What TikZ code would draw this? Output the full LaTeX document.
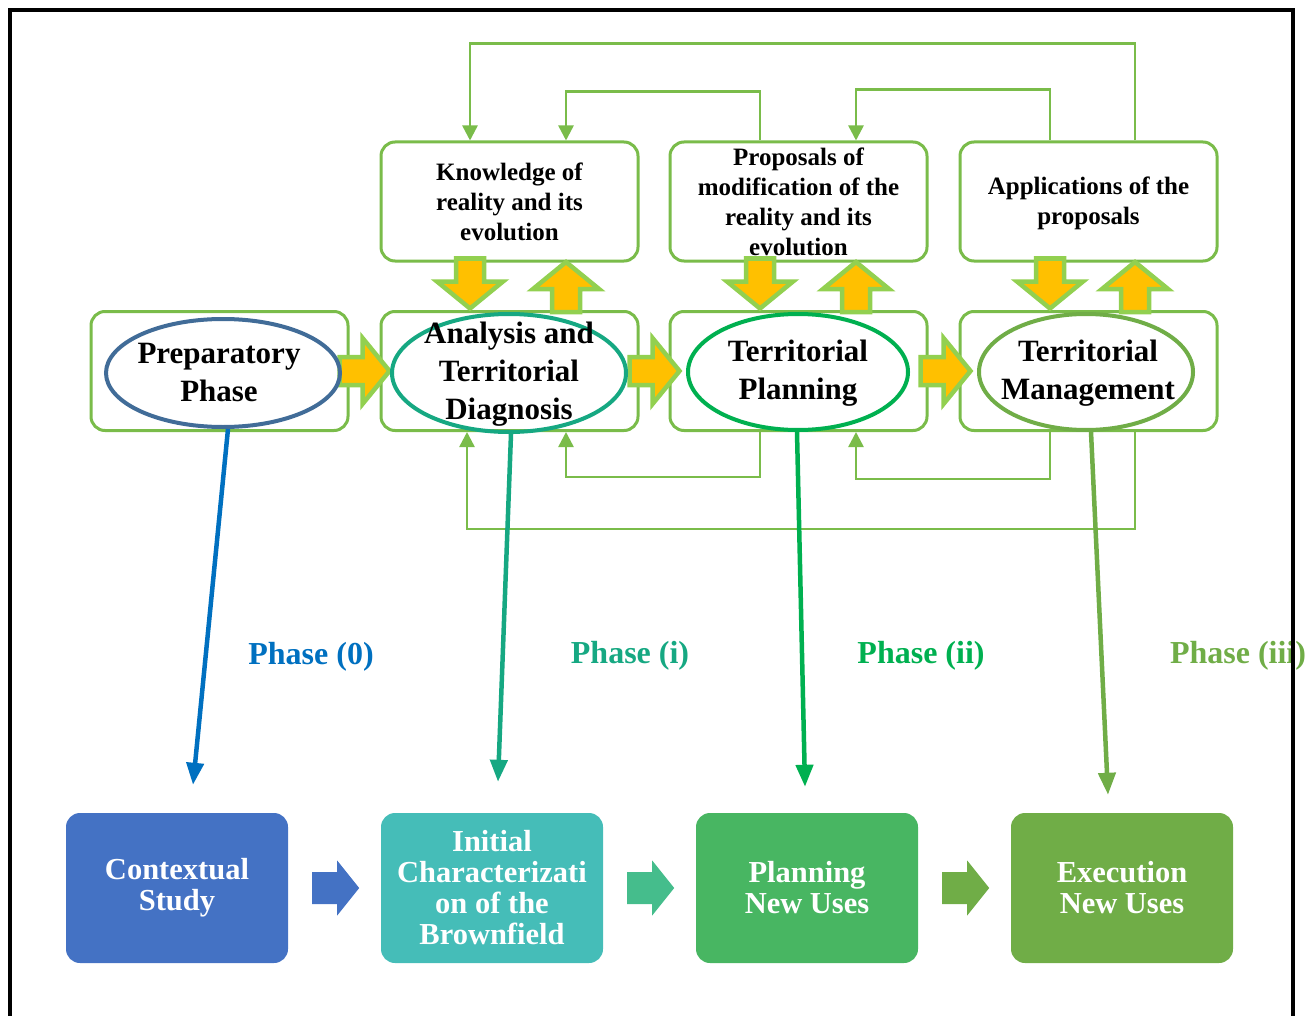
\documentclass[tikz,border=0pt]{standalone}
\usepackage{fontspec}
\setmainfont{Liberation Serif}
\usetikzlibrary{shapes.geometric,arrows.meta}

\definecolor{boxgreen}{RGB}{122,188,74}
\definecolor{fatgreen}{RGB}{146,208,80}
\definecolor{fatorange}{RGB}{255,192,0}
\definecolor{ringblue}{RGB}{65,108,152}
\definecolor{ringteal}{RGB}{22,168,130}
\definecolor{ringgreen}{RGB}{0,176,80}
\definecolor{ringolive}{RGB}{112,173,71}
\definecolor{phaseblue}{RGB}{0,112,192}
\definecolor{tileblue}{RGB}{68,114,196}
\definecolor{tileteal}{RGB}{69,189,184}
\definecolor{tilegreen}{RGB}{72,182,98}
\definecolor{tileolive}{RGB}{112,173,71}
\definecolor{arrowmint}{RGB}{69,189,140}

\newcommand{\stagefont}{\bfseries\fontsize{31}{38}\selectfont}
\newcommand{\notefont}{\bfseries\fontsize{25}{30}\selectfont}
\newcommand{\tilefont}{\bfseries\fontsize{30.5}{31}\selectfont}
\newcommand{\phasefont}{\bfseries\fontsize{32}{34}\selectfont}

\tikzset{
  stage/.style={draw=boxgreen, line width=3pt, rounded corners=14pt, fill=white,
    minimum width=257pt, minimum height=119pt},
  ring/.style={ellipse, draw=#1, line width=4pt, inner sep=0pt},
  stagetext/.style={align=center, font=\stagefont, inner sep=0pt},
  notetext/.style={align=center, font=\notefont, inner sep=0pt},
  tile/.style={fill=#1, rounded corners=14pt, minimum width=222pt, minimum height=150pt,
    text=white, align=center, font=\tilefont, inner sep=0pt},
  loop/.style={draw=boxgreen, line width=2.5pt, -{Triangle[width=15pt,length=15pt]}},
  phasearrow/.style={draw=#1, line width=4.5pt, -{Triangle[width=17pt,length=22pt]}},
  phaselabel/.style={text=#1, font=\phasefont, inner sep=0pt},
  fatarrow/.pic={
    \draw[draw=fatgreen, fill=fatorange, line width=4.5pt, line join=miter]
      (0,-14) -- (23,-14) -- (23,-33) -- (50,0) -- (23,33) -- (23,14) -- (0,14) -- cycle;
  },
  flatarrow/.pic={
    \fill[pic actions] (0,-16) -- (25,-16) -- (25,-27.5) -- (47,0) -- (25,27.5) -- (25,16) -- (0,16) -- cycle;
  }
}

\begin{document}
\begin{tikzpicture}[x=1pt, y=-1pt]
\useasboundingbox (0,0) rectangle (1316,1016);

\node[stage] (know) at (509.5,201.5) {};
\node[stage] (props) at (798.5,201.5) {};
\node[stage] (apps) at (1088.5,201.5) {};
\node[stage] (prep) at (219.5,371) {};
\node[stage] (anly) at (509.5,371) {};
\node[stage] (plan) at (798.5,371) {};
\node[stage] (mgmt) at (1088.5,371) {};

\node[notetext] (knowT) at (509.5,202) {Knowledge of\\reality and its\\evolution};
\node[notetext] (propsT) at (798.5,202) {Proposals of\\modification of the\\reality and its\\evolution};
\node[notetext] (appsT) at (1088.5,203) {Applications of the\\proposals};

\draw[loop] ([xshift=46.5pt]apps.north) -- ++(0,-97) -| ([xshift=-39.5pt]know.north);
\draw[loop] ([xshift=-38.5pt]props.north) -- ++(0,-49) -| ([xshift=56.5pt]know.north);
\draw[loop] ([xshift=-38.5pt]apps.north) -- ++(0,-51) -| ([xshift=57.5pt]props.north);
\draw[loop] ([xshift=-38.5pt]plan.south) -- ++(0,45) -| ([xshift=56.5pt]anly.south);
\draw[loop] ([xshift=-38.5pt]mgmt.south) -- ++(0,47) -| ([xshift=57.5pt]plan.south);
\draw[loop] ([xshift=46.5pt]mgmt.south) -- ++(0,97) -| ([xshift=-42.5pt]anly.south);

\pic at ([xshift=-10pt]prep.east) {fatarrow};
\pic at ([xshift=-10pt]anly.east) {fatarrow};
\pic at ([xshift=-8pt]plan.east) {fatarrow};
\pic[rotate=-90] at ([xshift=-39.5pt,yshift=4pt]know.south) {fatarrow};
\pic[rotate=90] at ([xshift=56.5pt,yshift=-2pt]anly.north) {fatarrow};
\pic[rotate=-90] at ([xshift=-38.5pt,yshift=4pt]props.south) {fatarrow};
\pic[rotate=90] at ([xshift=57.5pt,yshift=-2pt]plan.north) {fatarrow};
\pic[rotate=-90] at ([xshift=-38.5pt,yshift=4pt]apps.south) {fatarrow};
\pic[rotate=90] at ([xshift=46.5pt,yshift=-2pt]mgmt.north) {fatarrow};

\node[ring=ringblue, minimum width=234pt, minimum height=108pt] (prepE) at (223,373) {};
\node[ring=ringteal, minimum width=234pt, minimum height=118pt] (anlyE) at (509,373) {};
\node[ring=ringgreen, minimum width=220pt, minimum height=116pt] (planE) at (798,372) {};
\node[ring=ringolive, minimum width=214pt, minimum height=116pt] (mgmtE) at (1086,372) {};

\node[stagetext] (prepT) at (219,373) {Preparatory\\Phase};
\node[stagetext] (anlyT) at (509,374) {Analysis and\\Territorial\\Diagnosis};
\node[stagetext] (planT) at (798,373) {Territorial\\Planning};
\node[stagetext] (mgmtT) at (1088,373) {Territorial\\Management};

\node[tile=tileblue] (ctx) at (177,888) {Contextual\\Study};
\node[tile=tileteal] (init) at (492,888) {Initial\\Characterizati\\on of the\\Brownfield};
\node[tile=tilegreen] (pnu) at (807,888) {Planning\\New Uses};
\node[tile=tileolive] (enu) at (1122,888) {Execution\\New Uses};

\pic[fill=tileblue] at ([xshift=24pt]ctx.east) {flatarrow};
\pic[fill=arrowmint] at ([xshift=24pt]init.east) {flatarrow};
\pic[fill=tileolive] at ([xshift=24pt]pnu.east) {flatarrow};

\draw[phasearrow=phaseblue] ([xshift=5pt]prepE.south) -- ([xshift=16pt,yshift=28pt]ctx.north);
\draw[phasearrow=ringteal] ([xshift=2pt]anlyE.south) -- ([xshift=6pt,yshift=31pt]init.north);
\draw[phasearrow=ringgreen] ([xshift=-1pt]planE.south) -- ([xshift=-2pt,yshift=26pt]pnu.north);
\draw[phasearrow=ringolive] ([xshift=5pt]mgmtE.south) -- ([xshift=-14pt,yshift=18pt]enu.north);

\node[phaselabel=phaseblue] (ph0) at (311,657) {Phase (0)};
\node[phaselabel=ringteal] (ph1) at (630,656) {Phase (i)};
\node[phaselabel=ringgreen] (ph2) at (921,656) {Phase (ii)};
\node[phaselabel=ringolive] (ph3) at (1238,656) {Phase (iii)};

\draw[line width=3.5pt] (10,1016) -- (10,10) -- (1293,10) -- (1293,1016);
\end{tikzpicture}
\end{document}
